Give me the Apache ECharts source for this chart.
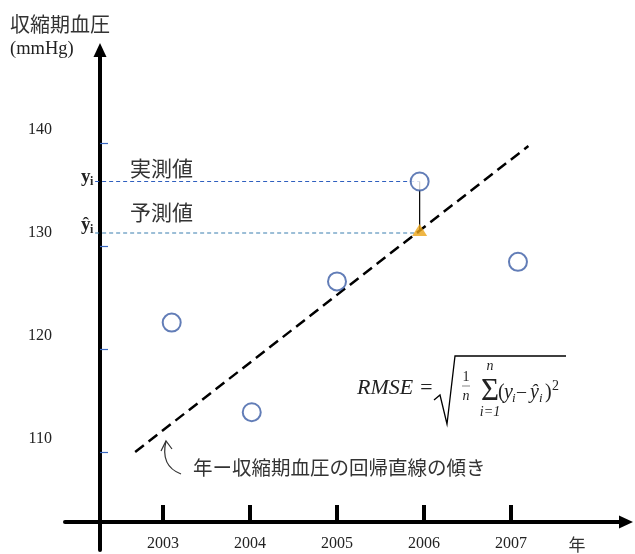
<!DOCTYPE html>
<html><head><meta charset="utf-8">
<script src="https://cdn.jsdelivr.net/npm/echarts@6/dist/echarts.min.js"></script>
<style>html,body{margin:0;padding:0;background:#fff}#c{width:635px;height:554px}</style>
</head><body><div id="c"></div>
<script>
// ---- data ----
const years = [2003.1, 2004.02, 2005.0, 2005.95, 2007.08];
const sbp = [121.3, 112.6, 125.3, 135.0, 127.2];
const xTicks = [2003, 2004, 2005, 2006, 2007];
const yTicks = [110, 120, 130, 140];
const regX = [2002.68, 2007.2];
const regY = [108.74, 138.45];
const predicted = [2005.95, 130.3];
const observedLevel = 135.0;
const predictedLevel = 130.0;
const guideStartX = 2002.22;

const CJK = '"Noto Sans CJK JP", "Noto Sans", sans-serif';
const SERIF = '"Liberation Serif", "DejaVu Serif", serif';

function T(text, x, y, font, extra) {
  return {
    type: 'text', x: x, y: y, silent: true,
    style: Object.assign({ text: text, font: font, fill: '#222', align: 'left', verticalAlign: 'middle' }, extra || {})
  };
}

const chart = echarts.init(document.getElementById('c'), null, { renderer: 'canvas' });

const axisBlack = { color: '#000', width: 4 };

const option = {
  animation: false,
  backgroundColor: '#fff',
  grid: { left: 65, right: 9, top: 50, bottom: 4, containLabel: false },
  xAxis: [{
    type: 'value', min: 2001.8736, max: 2008.3218,
    position: 'bottom', offset: -28,
    axisLine: { show: true, lineStyle: axisBlack, symbol: ['none', 'triangle'], symbolSize: [13, 14] },
    axisTick: { show: true, inside: true, length: 17, customValues: xTicks, lineStyle: { color: '#000', width: 4 } },
    axisLabel: { show: true, customValues: xTicks, margin: 14, fontFamily: SERIF, fontSize: 16, color: '#222', formatter: v => String(v) },
    splitLine: { show: false }
  }],
  yAxis: [{
    type: 'value', min: 99.22, max: 147.77,
    position: 'left', offset: -35,
    axisLine: { show: true, lineStyle: axisBlack, symbol: ['none', 'triangle'], symbolSize: [13, 14] },
    axisTick: { show: false },
    axisLabel: { show: true, customValues: yTicks, margin: 48, fontFamily: SERIF, fontSize: 16, color: '#222' },
    splitLine: { show: false }
  }, {
    type: 'value', min: 100.48, max: 149.03,
    position: 'left', offset: -35,
    axisLine: { show: false },
    axisTick: { show: true, inside: true, length: 8, customValues: yTicks, lineStyle: { color: '#3A68C0', width: 1.2 } },
    axisLabel: { show: false },
    splitLine: { show: false }
  }],
  series: [
    {
      type: 'line', name: 'guideObserved', z: 2, symbol: 'none', silent: true,
      data: [[guideStartX, observedLevel], [years[3], observedLevel]],
      lineStyle: { color: '#2F5FBF', width: 1.1, type: [4, 3] }
    },
    {
      type: 'line', name: 'guidePredicted', z: 2, symbol: 'none', silent: true,
      data: [[guideStartX, predictedLevel], [predicted[0], predictedLevel]],
      lineStyle: { color: '#3A7FAF', width: 1.1, type: [4, 3] }
    },
    {
      type: 'line', name: 'regression', z: 3, symbol: 'none', silent: true,
      data: [[regX[0], regY[0]], [regX[1], regY[1]]],
      lineStyle: { color: '#000', width: 2.5, type: [11, 6] }
    },
    {
      type: 'line', name: 'residual', z: 3, symbol: 'none', silent: true,
      data: [[years[3], observedLevel], [predicted[0], predicted[1]]],
      lineStyle: { color: '#000', width: 1.2 }
    },
    {
      type: 'scatter', name: 'observed', z: 5, symbol: 'circle', symbolSize: 18, silent: true,
      data: years.map((x, i) => [x, sbp[i]]),
      itemStyle: { color: '#fff', borderColor: '#3B5DA5', borderWidth: 2 }
    },
    {
      type: 'scatter', name: 'predicted', z: 6, symbol: 'triangle', symbolSize: [15, 12], silent: true,
      data: [predicted],
      itemStyle: { color: '#EBA417' }
    }
  ],
  graphic: [
    T('収縮期血圧', 10, 24, '20px ' + CJK, { fill: '#333' }),
    T('(mmHg)', 10, 49, '18.5px ' + SERIF),
    T('実測値', 130, 168, '21px ' + CJK, { fill: '#333' }),
    T('予測値', 130, 212, '21px ' + CJK, { fill: '#333' }),
    T('年ー収縮期血圧の回帰直線の傾き', 193, 468, '19.5px ' + CJK, { fill: '#333' }),
    T('年', 577, 545, '17px ' + CJK, { fill: '#333', align: 'center' }),
    // y_i labels
    T('y', 81, 177, 'bold 19px ' + SERIF),
    T('i', 90, 182, 'bold 12px ' + SERIF),
    T('ŷ', 81, 225, 'bold 19px ' + SERIF),
    T('i', 90, 230, 'bold 12px ' + SERIF),
    // curved arrow
    { type: 'bezierCurve', silent: true, shape: { x1: 166, y1: 441, x2: 181, y2: 474, cpx1: 160, cpy1: 466 }, style: { stroke: '#333', lineWidth: 1.2, fill: null } },
    { type: 'polyline', silent: true, shape: { points: [[161, 451], [166, 441], [172, 449]] }, style: { stroke: '#333', lineWidth: 1.2, fill: null } },
    // RMSE formula
    T('RMSE =', 357, 388, 'italic 22px ' + SERIF),
    { type: 'polyline', silent: true, shape: { points: [[434, 400], [440, 395], [447, 424], [455, 356], [566, 356]] }, style: { stroke: '#000', lineWidth: 1.3, fill: null } },
    T('1', 466, 377, '14px ' + SERIF, { align: 'center' }),
    { type: 'line', silent: true, shape: { x1: 462, y1: 386, x2: 470, y2: 386 }, style: { stroke: '#555', lineWidth: 0.7 } },
    T('n', 466, 396, 'italic 14px ' + SERIF, { align: 'center' }),
    T('n', 490, 366, 'italic 14px ' + SERIF, { align: 'center' }),
    T('Σ', 490, 392, '31px ' + SERIF, { align: 'center' }),
    T('i=1', 490, 412, 'italic 14px ' + SERIF, { align: 'center' }),
    T('(', 498, 393, '20px ' + SERIF),
    T('y', 504, 393, 'italic 20px ' + SERIF),
    T('i', 512, 399, 'italic 13px ' + SERIF),
    T('–', 517, 392, '18px ' + SERIF),
    T('ŷ', 530, 393, 'italic 20px ' + SERIF),
    T('i', 539, 399, 'italic 13px ' + SERIF),
    T(')', 545, 393, '20px ' + SERIF),
    T('2', 552, 386, '14px ' + SERIF)
  ]
};
chart.setOption(option);
</script>
</body></html>
